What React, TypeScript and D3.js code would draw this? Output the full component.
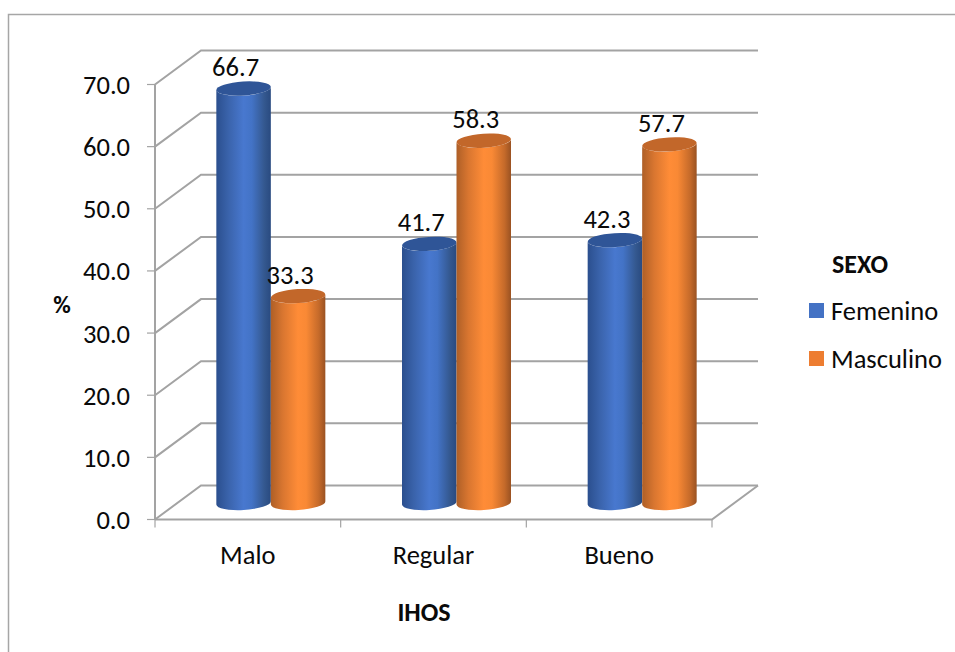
import React from "react";
import * as d3 from "d3";

const categories = ["Malo", "Regular", "Bueno"];
const femenino = [66.7, 41.7, 42.3];
const masculino = [33.3, 58.3, 57.7];
const yTicks = [0, 10, 20, 30, 40, 50, 60, 70];
const seriesNames = ["Femenino", "Masculino"];

const WIDTH = 955;
const HEIGHT = 652;
const FONT = "Carlito, Lato, 'Open Sans', sans-serif";
const GRID = "#a3a3a3";
const TEXT = "#0a0a0a";
const LABEL_SIZE = 26.5;

// Oblique offset between the front plane and the back wall of the 3-D box.
const depthX = 46;
const depthY = -34;
const barW = 54.5;
const ry = 7;
// Cylinder ends lean slightly upward to the right in this projection.
const tiltDeg = -3.5;
const lean = 1.6;

const x = d3.scaleBand<string>().domain(categories).range([155, 712]);
const y = d3.scaleLinear().domain([0, 70]).range([519.5, 84.5]);
const barBase = y(0) + depthY / 2 + 0.5;

const ramps = [
  { id: "femeninoSide", stops: ["#2b4f8e", "#3a63ab", "#4878cf", "#4373c6", "#34588f", "#294a80"], top: "#2f5597", swatch: "#4472c4" },
  { id: "masculinoSide", stops: ["#ae5f27", "#d97630", "#ff8c37", "#f98935", "#c56a2a", "#9a5222"], top: "#c2672a", swatch: "#ed7d31" },
];
const rampOffsets = [0, 0.22, 0.5, 0.65, 0.88, 1];

function Cylinder({ cx, value, series }: { cx: number; value: number; series: number }) {
  const left = cx - barW / 2;
  const right = cx + barW / 2;
  const top = y(value) + depthY / 2 + 0.5;
  const rx = barW / 2;
  const body =
    `M${left},${top + lean} L${left},${barBase + lean} ` +
    `A${rx},${ry} ${tiltDeg} 0 0 ${right},${barBase - lean} ` +
    `L${right},${top - lean} A${rx},${ry} ${tiltDeg} 0 1 ${left},${top + lean} Z`;
  return (
    <g>
      <path d={body} fill={`url(#${ramps[series].id})`} />
      <ellipse
        cx={cx}
        cy={top}
        rx={rx}
        ry={ry}
        fill={ramps[series].top}
        transform={`rotate(${tiltDeg} ${cx} ${top})`}
      />
    </g>
  );
}

export default function App() {
  const cx = (c: string) => (x(c) as number) + x.bandwidth() / 2 + depthX / 2;
  const bars = categories.flatMap((c, i) => [
    { key: `${c}-f`, cx: cx(c) - barW / 2, value: femenino[i], series: 0 },
    { key: `${c}-m`, cx: cx(c) + barW / 2, value: masculino[i], series: 1 },
  ]);
  const [x0, x1] = x.range();
  const edges = [x0, ...categories.map((c) => (x(c) as number) + x.bandwidth())];

  return (
    <svg
      width={WIDTH}
      height={HEIGHT}
      viewBox={`0 0 ${WIDTH} ${HEIGHT}`}
      style={{ position: "absolute", left: 0, top: 0, background: "#fff" }}
      fontFamily={FONT}
    >
      <defs>
        {ramps.map((r) => (
          <linearGradient key={r.id} id={r.id} x1="0" x2="1" y1="0" y2="0">
            {r.stops.map((s, i) => (
              <stop key={i} offset={rampOffsets[i]} stopColor={s} />
            ))}
          </linearGradient>
        ))}
      </defs>

      {/* outer chart frame, open on the right and bottom */}
      <path d={`M8.5,${HEIGHT} V14.5 H${WIDTH}`} fill="none" stroke="#a6a6a6" strokeWidth={1.5} />

      {/* back wall and side wall grid */}
      {yTicks.map((t) => (
        <path
          key={t}
          d={`M${x0},${y(t)} L${x0 + depthX},${y(t) + depthY} H${x1 + depthX}`}
          fill="none"
          stroke={GRID}
          strokeWidth={2}
        />
      ))}
      {/* floor front and right edge */}
      <path
        d={`M${x0},${y(0)} H${x1} L${x1 + depthX},${y(0) + depthY}`}
        fill="none"
        stroke={GRID}
        strokeWidth={2}
      />
      <line x1={x0} x2={x0} y1={y(70)} y2={y(0)} stroke={GRID} strokeWidth={2} />

      {/* axis tick marks */}
      {yTicks.map((t) => (
        <line key={t} x1={147} x2={x0} y1={y(t)} y2={y(t)} stroke={GRID} strokeWidth={1.2} />
      ))}
      {edges.map((e) => (
        <line key={e} x1={e} x2={e} y1={y(0)} y2={y(0) + 8} stroke={GRID} strokeWidth={1.2} />
      ))}

      {/* cylinders */}
      {bars.map((b) => (
        <Cylinder key={b.key} cx={b.cx} value={b.value} series={b.series} />
      ))}

      {/* value labels */}
      {bars.map((b) => (
        <text
          key={b.key}
          x={b.cx - 8}
          y={y(b.value) + depthY / 2 - 12}
          textAnchor="middle"
          fontSize={LABEL_SIZE}
          fill={TEXT}
        >
          {b.value.toFixed(1)}
        </text>
      ))}

      {/* axis labels */}
      {yTicks.map((t) => (
        <text key={t} x={130} y={y(t) + 9.5} textAnchor="end" fontSize={LABEL_SIZE} fill={TEXT}>
          {t.toFixed(1)}
        </text>
      ))}
      {categories.map((c) => (
        <text
          key={c}
          x={(x(c) as number) + x.bandwidth() / 2}
          y={563.5}
          textAnchor="middle"
          fontSize={LABEL_SIZE}
          fill={TEXT}
        >
          {c}
        </text>
      ))}
      <text x={424} y={621} textAnchor="middle" fontSize={26} fontWeight={700} fill={TEXT}>
        IHOS
      </text>
      <text x={62} y={313} textAnchor="middle" fontSize={24} fontWeight={700} fill={TEXT}>
        %
      </text>

      {/* legend */}
      <text x={832} y={273} fontSize={26} fontWeight={700} fill={TEXT}>
        SEXO
      </text>
      {seriesNames.map((name, i) => (
        <g key={name}>
          <rect x={809} y={303 + i * 48} width={15} height={15} fill={ramps[i].swatch} />
          <text x={831} y={319.5 + i * 48} fontSize={LABEL_SIZE} fill={TEXT}>
            {name}
          </text>
        </g>
      ))}
    </svg>
  );
}
